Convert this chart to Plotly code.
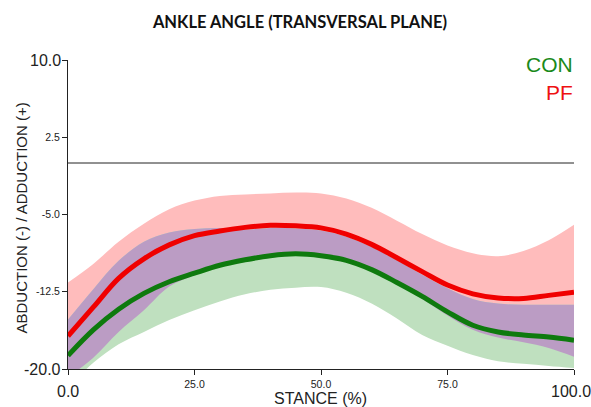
import plotly.graph_objects as go

stance = [0, 5, 10, 15, 20, 25, 30, 35, 40, 45, 50, 55, 60, 65, 70, 75, 80, 85, 90, 95, 100]

pf_mean = [-16.8, -14.0, -11.2, -9.3, -7.95, -7.05, -6.6, -6.25, -6.05, -6.1, -6.3,
           -6.9, -7.9, -9.2, -10.55, -11.85, -12.7, -13.1, -13.15, -12.85, -12.55]
pf_upper = [-11.6, -9.8, -7.65, -5.9, -4.5, -3.65, -3.2, -3.05, -2.95, -2.87, -2.95,
            -3.45, -4.35, -5.6, -6.9, -8.0, -8.75, -9.05, -8.55, -7.5, -6.0]
pf_lower = [-20.8, -18.9, -16.4, -14.3, -12.0, -10.9, -10.1, -9.6, -9.2, -9.0, -9.2,
            -9.65, -10.5, -11.8, -13.2, -14.8, -16.2, -16.95, -17.4, -17.95, -18.8]

con_mean = [-18.7, -16.2, -14.2, -12.66, -11.53, -10.7, -9.93, -9.4, -9.0, -8.82, -9.0,
            -9.45, -10.35, -11.6, -12.95, -14.45, -15.75, -16.4, -16.7, -16.9, -17.2]
con_upper = [-15.2, -12.25, -9.5, -7.65, -6.75, -6.4, -6.3, -6.45, -6.3, -6.35, -6.55,
             -7.15, -8.15, -9.45, -10.85, -12.15, -13.2, -13.65, -13.75, -13.75, -13.75]
con_lower = [-21.8, -19.4, -17.6, -16.4, -15.25, -14.3, -13.45, -12.75, -12.3, -12.1, -12.05,
             -12.6, -13.65, -15.1, -16.7, -17.75, -18.65, -19.25, -19.5, -19.7, -19.9]

y_ticks = [-20, -12.5, -5, 2.5, 10]
y_ticklabels = ["-20.0", "-12.5", "-5.0", "2.5", "10.0"]
x_ticks = [0, 25, 50, 75, 100]
x_ticklabels = ["0.0", "25.0", "50.0", "75.0", "100.0"]

PINK = "#ffbcbc"
GREENF = "#bfe0bf"
PURPLE = "#bb9cc4"
RED = "#f00000"
GREEN = "#0e7a0e"
FONT = "Liberation Sans"
TXT = "#222222"

# overlap region of the two bands
ov_top = [min(a, b) for a, b in zip(pf_upper, con_upper)]
ov_bot = [max(a, b) for a, b in zip(pf_lower, con_lower)]


def band(x, lo, hi, color):
    return [
        go.Scatter(x=x, y=lo, mode="lines", line=dict(width=0, shape="spline", smoothing=1.0),
                   hoverinfo="skip", showlegend=False),
        go.Scatter(x=x, y=hi, mode="lines", line=dict(width=0, shape="spline", smoothing=1.0),
                   fill="tonexty", fillcolor=color, hoverinfo="skip", showlegend=False),
    ]


fig = go.Figure()
for t in band(stance, pf_lower, pf_upper, PINK):
    fig.add_trace(t)
for t in band(stance, con_lower, con_upper, GREENF):
    fig.add_trace(t)
for t in band(stance, ov_bot, ov_top, PURPLE):
    fig.add_trace(t)

fig.add_trace(go.Scatter(x=stance, y=con_mean, mode="lines", name="CON",
                         line=dict(color=GREEN, width=5, shape="spline", smoothing=1.0),
                         showlegend=False))
fig.add_trace(go.Scatter(x=stance, y=pf_mean, mode="lines", name="PF",
                         line=dict(color=RED, width=5, shape="spline", smoothing=1.0),
                         showlegend=False))

fig.add_hline(y=0, line=dict(color=TXT, width=1))

# middle tick labels are small; the end labels are drawn larger as annotations
x_small = [s if 0 < i < len(x_ticklabels) - 1 else "" for i, s in enumerate(x_ticklabels)]
y_small = [s if 0 < i < len(y_ticklabels) - 1 else "" for i, s in enumerate(y_ticklabels)]

fig.update_xaxes(range=[0, 100], tickvals=x_ticks, ticktext=x_small,
                 automargin=False,
                 showgrid=False, zeroline=False, showline=True, linecolor=TXT, linewidth=1,
                 ticks="outside", ticklen=5, tickcolor=TXT,
                 tickfont=dict(family=FONT, size=10.5, color=TXT))
fig.update_yaxes(range=[-20, 10], tickvals=y_ticks, ticktext=y_small,
                 automargin=False,
                 showgrid=False, zeroline=False, showline=True, linecolor=TXT, linewidth=1,
                 ticks="outside", ticklen=5, tickcolor=TXT,
                 tickfont=dict(family=FONT, size=10.5, color=TXT))

BIG = dict(family=FONT, size=16, color=TXT)
fig.add_annotation(x=x_ticks[0], xref="x", y=0, yref="paper", text=x_ticklabels[0], showarrow=False,
                   xanchor="center", yanchor="middle", yshift=-22, font=BIG)
fig.add_annotation(x=x_ticks[-1], xref="x", y=0, yref="paper", text=x_ticklabels[-1], showarrow=False,
                   xanchor="center", yanchor="middle", yshift=-22, xshift=-3, font=BIG)
fig.add_annotation(x=0, xref="paper", y=y_ticks[0], yref="y", text=y_ticklabels[0], showarrow=False,
                   xanchor="right", yanchor="middle", xshift=-5, font=BIG)
fig.add_annotation(x=0, xref="paper", y=y_ticks[-1], yref="y", text=y_ticklabels[-1], showarrow=False,
                   xanchor="right", yanchor="middle", xshift=-5, font=BIG)

# axis titles
fig.add_annotation(x=0.5, xref="paper", y=0, yref="paper", text="STANCE (%)", showarrow=False,
                   xanchor="center", yanchor="middle", yshift=-29, xshift=-1,
                   font=dict(family=FONT, size=16, color=TXT))
fig.add_annotation(x=0, xref="paper", y=0.487, yref="paper", text="ABDUCTION (-) / ADDUCTION (+)",
                   showarrow=False, textangle=-90, xanchor="center", yanchor="middle", xshift=-46,
                   font=dict(family=FONT, size=15, color=TXT))

# legend labels
fig.add_annotation(xref="paper", yref="paper", x=1.0, y=0.985, text="CON", showarrow=False,
                   xanchor="right", yanchor="middle", xshift=1,
                   font=dict(family=FONT, size=21, color="#1a8a1a"))
fig.add_annotation(xref="paper", yref="paper", x=1.0, y=0.895, text="PF", showarrow=False,
                   xanchor="right", yanchor="middle", xshift=1,
                   font=dict(family=FONT, size=21, color="#ee1111"))

fig.update_layout(
    width=591, height=407,
    margin=dict(l=68, r=17, t=60, b=38),
    paper_bgcolor="white", plot_bgcolor="white",
    font=dict(family=FONT),
    title=dict(text="<b>ANKLE ANGLE (TRANSVERSAL PLANE)</b>", x=0.5076, xanchor="center",
               xref="container", y=0.9447, yanchor="middle",
               font=dict(family="Lato", size=16.5, color="#111111")),
)

# remove the default page margin so the 591x407 figure fills the window exactly
fig.write_html("out.html", config={"displayModeBar": False},
               post_script="document.body.style.margin='0';document.body.style.overflow='hidden';")
